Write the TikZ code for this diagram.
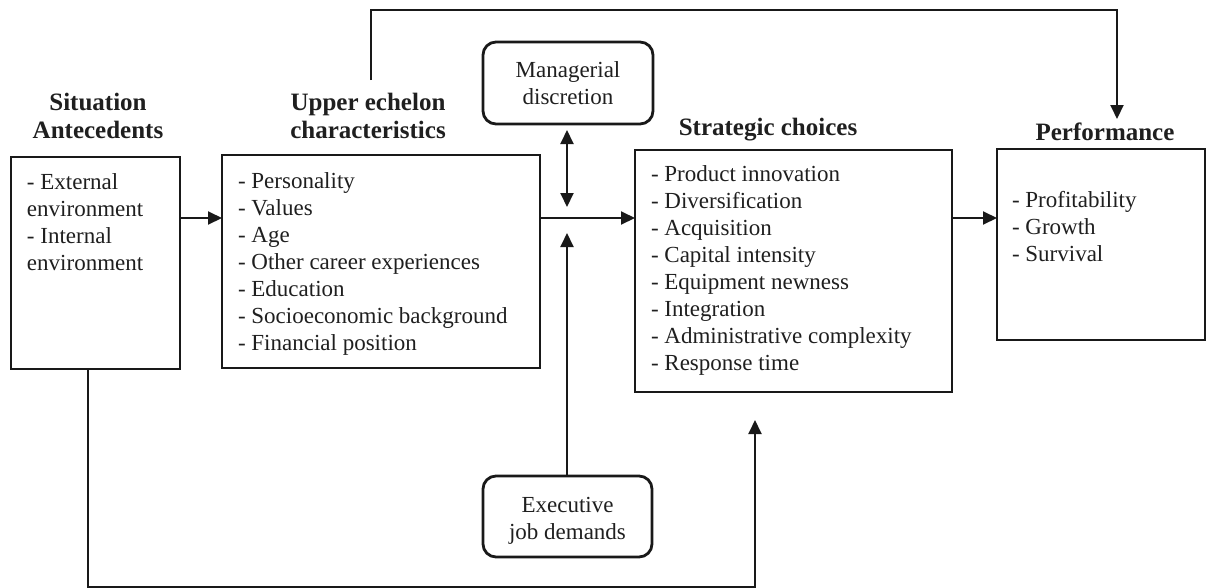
\documentclass[tikz,border=0pt]{standalone}
\usepackage{fontspec}
\setmainfont{Liberation Serif}
\usetikzlibrary{arrows.meta}
\definecolor{ink}{gray}{0.1}
\definecolor{txt}{gray}{0.12}
\begin{document}
\begin{tikzpicture}[x=1pt,y=-1pt,
  every node/.style={inner sep=0pt, outer sep=0pt, text=txt},
  box/.style={draw=ink, line width=2.8pt, anchor=north west},
  rbox/.style={box, rounded corners=13pt},
  body/.style={font=\fontsize{23}{27}\selectfont, align=left, anchor=north west},
  cbody/.style={font=\fontsize{23}{27}\selectfont, align=center, anchor=north},
  head/.style={font=\bfseries\fontsize{25}{28}\selectfont, align=center},
  link/.style={draw=ink, line width=2pt},
  arr/.style={link, -{Triangle[length=14pt,width=13pt]}},
  dblarr/.style={link, {Triangle[length=14pt,width=13pt]}-{Triangle[length=14pt,width=13pt]}}
]
\useasboundingbox (0,0) rectangle (1208,587);

% main boxes
\node[box, minimum width=169pt, minimum height=212pt] (sit) at (11,157) {};
\node[box, minimum width=318pt, minimum height=213pt] (upper) at (222,155) {};
\node[box, minimum width=317pt, minimum height=242pt] (strat) at (635,150) {};
\node[box, minimum width=208pt, minimum height=191pt] (perf) at (997,149) {};

% moderator boxes
\node[rbox, minimum width=170pt, minimum height=82pt] (mgr) at (483,42) {};
\node[rbox, minimum width=169pt, minimum height=81pt] (exec) at (483,476) {};

% headings
\node[head, anchor=north] (sitHead) at (98,92.7) {Situation\\Antecedents};
\node[head, anchor=north] (upperHead) at (368,93.1) {Upper echelon\\characteristics};
\node[head, anchor=base] (stratHead) at (768,135) {Strategic choices};
\node[head, anchor=base] (perfHead) at (1105,140) {Performance};

% box contents
\node[body] (sitText) at (27,173.3) {- External\\environment\\- Internal\\environment};
\node[body] (upperText) at (238,172.3) {- Personality\\- Values\\- Age\\- Other career experiences\\- Education\\- Socioeconomic background\\- Financial position};
\node[body] (stratText) at (651,165.8) {- Product innovation\\- Diversification\\- Acquisition\\- Capital intensity\\- Equipment newness\\- Integration\\- Administrative complexity\\- Response time};
\node[body] (perfText) at (1012,191.3) {- Profitability\\- Growth\\- Survival};
\node[cbody] (mgrText) at (568,62) {Managerial\\discretion};
\node[cbody] (execText) at (567.5,497) {Executive\\job demands};

% main causal chain
\coordinate (row) at (0,218);
\draw[arr] (sit.east |- row) -- (upper.west |- row);
\draw[arr] (upper.east |- row) -- (strat.west |- row);
\draw[arr] (strat.east |- row) -- (perf.west |- row);

% moderators acting on the chain
\coordinate (hub) at (567,218);
\draw[dblarr] ([yshift=-6pt]mgr.south -| hub) -- ([yshift=11pt]hub);
\draw[arr] (exec.north -| hub) -- ([yshift=-15pt]hub);

% feedback from upper echelons to performance
\coordinate (fbStart) at (371,80);
\coordinate (fbEnd) at (1117,119);
\draw[arr] (fbStart) -- ++(0,-70) -| (fbEnd);

% situation feeding strategic choices directly
\coordinate (fbBase) at (88,586.5);
\coordinate (fbTip) at (755,420);
\draw[arr] (sit.south -| fbBase) -- (fbBase) -| (fbTip);
\end{tikzpicture}
\end{document}
